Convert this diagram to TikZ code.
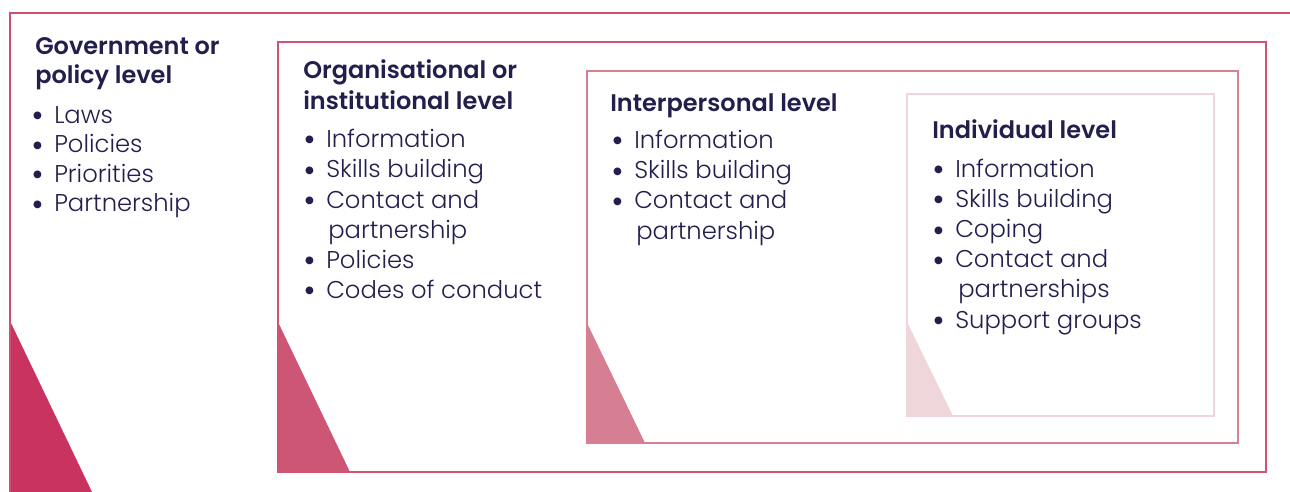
\documentclass[tikz,border=0pt]{standalone}
\usepackage{fontspec}
\IfFontExistsTF{Poppins Light}{\setmainfont{Poppins Light}[BoldFont=Poppins SemiBold]}{\setmainfont{Poppins}}
\newfontfamily\symf{DejaVu Sans}
\definecolor{txt}{RGB}{35,31,77}
\definecolor{outerc}{RGB}{208,78,112}
\definecolor{orgc}{RGB}{207,83,115}
\definecolor{intc}{RGB}{216,128,145}
\definecolor{indc}{RGB}{240,214,218}
\definecolor{toutc}{RGB}{200,51,95}
\definecolor{torgc}{RGB}{204,86,116}
\definecolor{tintc}{RGB}{214,127,146}
\definecolor{tindc}{RGB}{238,214,218}
\newcommand\bdot{\llap{\raisebox{3.3pt}{\symf\fontsize{7.6pt}{7.6pt}\selectfont ●}\hspace{9.3pt}}}
\tikzset{
  ttl/.style={anchor=base west, inner sep=0pt, text=txt, font=\fontsize{18pt}{18pt}\selectfont\bfseries},
  itm/.style={anchor=base west, inner sep=0pt, text=txt, font=\fontsize{18.2pt}{18.2pt}\selectfont},
  frame/.style={line width=1.65pt}
}
\begin{document}
\begin{tikzpicture}[x=0.75pt,y=-0.75pt]
\useasboundingbox (0,0) rectangle (1290,492);
% outer frame
\fill[toutc] (10,321) -- (92,492) -- (10,492) -- cycle;
\draw[frame, outerc] (1292,13) -- (10,13) -- (10,494);
% organisational
\fill[torgc] (278,322) -- (350,472) -- (278,472) -- cycle;
\draw[frame, orgc] (278,42) rectangle (1266,472);
% interpersonal
\fill[tintc] (587,323) -- (645,443) -- (587,443) -- cycle;
\draw[frame, intc] (587,71) rectangle (1238,443);
% individual
\fill[tindc] (907,322) -- (953,416) -- (907,416) -- cycle;
\draw[frame, indc] (907,94) rectangle (1214,416);

% Government
\node[ttl] (g1) at (35,55) {Government or};
\node[ttl] (g2) at (35,84) {policy level};
\node[itm] (ga) at (54,123) {\bdot Laws};
\node[itm] (gb) at (54,152.5) {\bdot Policies};
\node[itm] (gc) at (54,182) {\bdot Priorities};
\node[itm] (gd) at (54,211.5) {\bdot Partnership};

% Organisational
\node[ttl] (o1) at (303,79) {Organisational or};
\node[ttl] (o2) at (303,110) {institutional level};
\node[itm] (oa) at (326,147) {\bdot Information};
\node[itm] (ob) at (326,177.5) {\bdot Skills building};
\node[itm] (oc) at (326,208) {\bdot Contact and};
\node[itm] (od) at (328,238) {partnership};
\node[itm] (oe) at (326,268) {\bdot Policies};
\node[itm] (of) at (326,298) {\bdot Codes of conduct};

% Interpersonal
\node[ttl] (i1) at (610,112) {Interpersonal level};
\node[itm] (ia) at (634,148) {\bdot Information};
\node[itm] (ib) at (634,178.5) {\bdot Skills building};
\node[itm] (ic) at (634,209) {\bdot Contact and};
\node[itm] (id) at (636,239.5) {partnership};

% Individual
\node[ttl] (n1) at (932,138) {Individual level};
\node[itm] (na) at (955,177) {\bdot Information};
\node[itm] (nb) at (955,207) {\bdot Skills building};
\node[itm] (nc) at (955,237.5) {\bdot Coping};
\node[itm] (nd) at (955,267.5) {\bdot Contact and};
\node[itm] (ne) at (958,297.5) {partnerships};
\node[itm] (nf) at (955,328) {\bdot Support groups};
\end{tikzpicture}
\end{document}
